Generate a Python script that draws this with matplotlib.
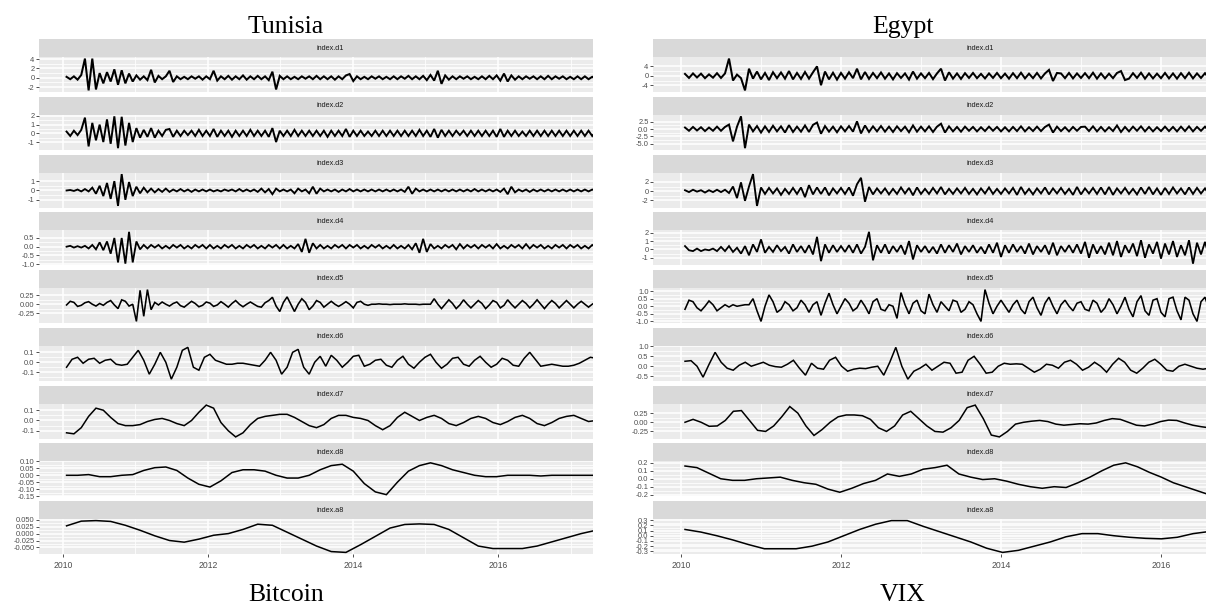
import numpy as np
import matplotlib.pyplot as plt

# ==========================================
# DATA : wavelet details d1..d8 and approximation a8
# ==========================================

strip_names = ["index.d1", "index.d2", "index.d3", "index.d4", "index.d5",
               "index.d6", "index.d7", "index.d8", "index.a8"]
year_ticks = [2010, 2012, 2014, 2016]
year_minor = [2011, 2013, 2015, 2017]

# ---- Tunisia (Bitcoin) ----
tun_start, tun_end = 2010.05, 2017.35

tun_d1 = [0.2, -0.3, 0.3, -0.4, 0.6, 4.1, -2.7, 4.1, -2.5, 1.0,
          -1.2, 1.2, -0.8, 1.8, -1.5, 1.6, -1.2, 0.9, -0.8, 0.5,
          -0.4, 0.3, -0.5, 1.7, -1.0, 0.4, -0.3, 0.3, 1.5, -0.9,
          0.3, -0.3, 0.2, -0.3, 0.3, -0.2, 0.3, -0.4, 0.3, -0.3,
          1.5, -0.6, 0.3, -0.3, 0.4, -0.4, 0.3, -0.3, 0.5, -0.4,
          0.3, -0.3, 0.4, -0.3, 0.3, -0.5, 1.3, -2.5, 0.4, -0.3,
          0.3, -0.3, 0.2, -0.3, 0.3, -0.2, 0.3, -0.3, 0.4, -0.3,
          0.3, -0.3, 0.3, -0.4, 0.3, -0.3, 0.5, 0.8, -0.7, 0.3,
          -0.3, 0.2, -0.3, 0.3, -0.2, 0.3, -0.3, 0.2, -0.3, 0.3,
          -0.3, 0.3, -0.2, 0.4, -0.3, 0.3, -0.3, 0.4, -0.5, 0.6,
          -0.6, 1.5, -1.3, 0.5, -0.4, 0.3, -0.3, 0.3, -0.2, 0.3,
          -0.3, 0.2, -0.3, 0.3, -0.3, 0.4, -0.3, 0.5, -0.6, 0.9,
          -0.8, 0.5, -0.4, 0.3, -0.3, 0.3, -0.2, 0.3, -0.3, 0.3,
          -0.3, 0.4, -0.3, 0.3, -0.2, 0.3, -0.3, 0.2, -0.3, 0.3,
          -0.3, 0.3, -0.3, 0.2, -0.3]

tun_d2 = [0.2, -0.3, 0.3, -0.2, 0.4, 1.8, -1.5, 1.2, -0.8, 1.0,
          -1.0, 1.6, -1.2, 1.95, -1.7, 1.9, -1.4, 1.2, -1.0, 0.6,
          -0.5, 0.4, -0.4, 0.6, -0.5, 0.3, -0.3, 0.4, 0.5, -0.4,
          0.3, -0.3, 0.3, -0.2, 0.3, -0.3, 0.4, -0.3, 0.3, -0.3,
          0.5, -0.4, 0.3, -0.3, 0.3, -0.4, 0.3, -0.3, 0.3, -0.3,
          0.4, -0.3, 0.3, -0.3, 0.3, -0.4, 0.6, -1.0, 0.3, -0.3,
          0.3, -0.3, 0.4, -0.3, 0.3, -0.3, 0.3, -0.3, 0.3, -0.3,
          0.3, -0.4, 0.3, -0.3, 0.3, -0.3, 0.5, -0.4, 0.3, -0.3,
          0.3, -0.3, 0.2, -0.3, 0.3, -0.3, 0.3, -0.3, 0.3, -0.3,
          0.3, -0.3, 0.3, -0.3, 0.3, -0.3, 0.4, -0.3, 0.3, -0.4,
          0.5, -0.5, 0.4, -0.3, 0.3, -0.3, 0.3, -0.2, 0.3, -0.3,
          0.3, -0.3, 0.3, -0.3, 0.3, -0.3, 0.3, -0.4, 0.5, -0.4,
          0.3, -0.3, 0.3, -0.3, 0.2, -0.3, 0.3, -0.3, 0.3, -0.3,
          0.3, -0.3, 0.3, -0.3, 0.3, -0.3, 0.3, -0.3, 0.3, -0.3,
          0.3, -0.3, 0.3, -0.3, 0.2]

tun_d3 = [0.0, 0.05, -0.05, 0.1, -0.1, 0.15, -0.1, 0.3, -0.35, 0.5,
          -0.6, 0.8, -0.9, 1.0, -1.65, 1.75, -1.0, 0.9, -0.6, 0.4,
          -0.3, 0.3, -0.2, 0.2, -0.2, 0.15, -0.15, 0.2, -0.15, 0.1,
          -0.1, 0.15, -0.1, 0.1, -0.15, 0.1, -0.1, 0.1, -0.1, 0.1,
          -0.1, 0.05, -0.1, 0.1, -0.05, 0.1, -0.1, 0.15, -0.1, 0.1,
          -0.1, 0.1, -0.15, 0.2, -0.2, 0.15, -0.4, 0.2, -0.1, 0.1,
          -0.1, 0.1, -0.3, 0.2, -0.1, 0.1, -0.3, 0.4, -0.35, 0.2,
          -0.1, 0.1, -0.1, 0.1, -0.15, 0.1, -0.1, 0.15, -0.1, 0.1,
          -0.1, 0.1, -0.1, 0.1, -0.1, 0.1, -0.1, 0.1, -0.1, 0.1,
          -0.1, 0.1, -0.15, 0.4, -0.35, 0.2, -0.1, 0.1, -0.1, 0.1,
          -0.1, 0.1, -0.1, 0.1, -0.1, 0.1, -0.1, 0.1, -0.1, 0.1,
          -0.1, 0.15, -0.1, 0.1, -0.1, 0.1, -0.1, 0.1, -0.15, 0.2,
          -0.4, 0.4, -0.2, 0.1, -0.1, 0.1, -0.15, 0.1, -0.1, 0.1,
          -0.1, 0.1, -0.1, 0.1, -0.1, 0.1, -0.1, 0.1, -0.1, 0.1,
          -0.1, 0.1, -0.1, 0.1, -0.05]

tun_d4 = [0.0, 0.05, -0.05, 0.03, -0.05, 0.05, -0.1, 0.1, -0.15, 0.25,
          -0.2, 0.3, -0.4, 0.5, -0.9, 0.5, -0.97, 0.85, -0.9, 0.3,
          -0.15, 0.1, -0.1, 0.1, -0.05, 0.1, -0.1, 0.05, -0.1, 0.1,
          -0.05, 0.1, -0.1, 0.05, -0.1, 0.1, -0.05, 0.1, -0.1, 0.1,
          -0.1, 0.05, -0.1, 0.1, -0.05, 0.1, -0.1, 0.05, -0.1, 0.1,
          -0.05, 0.1, -0.1, 0.05, -0.1, 0.1, -0.05, 0.1, -0.1, 0.1,
          -0.1, 0.05, -0.1, 0.15, -0.3, 0.45, -0.35, 0.2, -0.1, 0.1,
          -0.1, 0.05, -0.1, 0.1, -0.05, 0.1, -0.1, 0.1, -0.05, 0.1,
          -0.1, 0.05, -0.1, 0.1, -0.05, 0.1, -0.1, 0.05, -0.1, 0.1,
          -0.1, 0.05, -0.1, 0.1, -0.15, 0.2, -0.35, 0.45, -0.3, 0.15,
          -0.1, 0.05, -0.1, 0.1, -0.05, 0.1, -0.15, 0.15, -0.1, 0.1,
          -0.05, 0.1, -0.1, 0.1, -0.05, 0.1, -0.1, 0.15, -0.1, 0.05,
          -0.1, 0.1, -0.05, 0.1, -0.1, 0.15, -0.1, 0.1, -0.05, 0.1,
          -0.1, 0.05, -0.1, 0.1, -0.05, 0.1, -0.1, 0.1, -0.05, 0.1,
          -0.1, 0.05, -0.1, 0.1, -0.05]

tun_d5 = [-0.02, 0.08, 0.05, -0.06, -0.03, 0.04,
          0.07, 0.0, -0.05, 0.02, -0.03, 0.05,
          0.1, -0.02, -0.12, 0.12, 0.08, -0.05,
          0.0, -0.47, 0.38, -0.33, 0.4, -0.15, 0.05, -0.02,
          0.06, 0.0, -0.05, 0.02, 0.06, -0.04,
          -0.08, 0.0, 0.08, 0.02, -0.07, -0.03,
          0.06, 0.03, -0.06, -0.02, 0.07, 0.0,
          -0.08, 0.02, 0.1, 0.0, -0.07, 0.0,
          0.06, 0.0, -0.06, -0.08, 0.04, 0.1,
          0.19, -0.05, -0.2, 0.05, 0.2, 0.0,
          -0.2, 0.0, 0.15, 0.05, -0.15, -0.05,
          0.1, 0.05, -0.08, 0.0, 0.08, 0.0,
          -0.06, 0.0, 0.07, 0.0, -0.1, 0.05,
          0.08, 0.0, -0.03,
          0.0, 0.0, 0.01, 0.0, 0.0, -0.01, 0.0, 0.0, 0.0,
          0.01, 0.0, 0.0, 0.0, -0.01, 0.0, 0.0, 0.0,
          0.15, 0.0, -0.12, 0.0, 0.12, 0.02,
          -0.12, -0.02, 0.12, 0.0, -0.1, 0.0,
          0.1, 0.02, -0.12, -0.02, 0.1, 0.05,
          -0.1, -0.03, 0.12, 0.0, -0.1, 0.0,
          0.1, 0.02, -0.1, 0.0, 0.12, 0.0,
          -0.12, 0.0, 0.1, 0.02, -0.1, 0.0,
          0.1, 0.0, -0.1, 0.0, 0.08, 0.0,
          -0.08, 0.0, 0.06]

tun_d6 = [-0.05, 0.03, 0.05, -0.01, 0.03, 0.04, -0.01, 0.02, 0.03, -0.02,
          -0.03, -0.02, 0.05, 0.12, 0.02, -0.12, -0.02, 0.1, 0.0, -0.17,
          -0.05, 0.12, 0.15, -0.05, -0.08, 0.05, 0.08, 0.02, 0.0, -0.02,
          -0.02, -0.01, -0.01, -0.02, -0.03, -0.04, 0.02, 0.1, 0.02, -0.12,
          -0.05, 0.1, 0.13, -0.05, -0.12, 0.0, 0.06, -0.04, 0.07, 0.02,
          -0.05, 0.0, 0.06, 0.07, -0.04, -0.02, 0.02, 0.03, -0.03, -0.05,
          0.02, 0.06, -0.02, -0.06, 0.0, 0.05, 0.08, 0.0, -0.06, -0.02,
          0.04, 0.05, -0.02, -0.04, 0.02, 0.06, 0.0, -0.05, -0.02, 0.04,
          0.02, -0.03, -0.04, 0.04, 0.1, 0.03, -0.04, -0.03, -0.02, -0.03,
          -0.04, -0.04, -0.03, -0.01, 0.02, 0.05, 0.04]

tun_d7 = [-0.12, -0.13, -0.07, 0.04, 0.12, 0.1, 0.03, -0.03, -0.05, -0.05,
          -0.04, -0.01, 0.01, 0.02, 0.0, -0.03, -0.05, 0.0, 0.08, 0.15,
          0.12, -0.02, -0.1, -0.16, -0.12, -0.04, 0.02, 0.04, 0.05, 0.06,
          0.06, 0.03, -0.01, -0.05, -0.07, -0.04, 0.02, 0.05, 0.05, 0.03,
          0.02, 0.0, -0.05, -0.09, -0.05, 0.03, 0.08, 0.04, 0.0, 0.03,
          0.05, 0.02, -0.03, -0.05, -0.02, 0.02, 0.04, 0.02, -0.02, -0.04,
          -0.01, 0.03, 0.05, 0.02, -0.03, -0.05, -0.02, 0.02, 0.04, 0.05,
          0.02, -0.01, 0.0]

tun_d8 = [0.0, 0.0, 0.005, -0.01, -0.01, 0.0, 0.005, 0.035, 0.055, 0.06,
          0.035, -0.02, -0.065, -0.085, -0.04, 0.02, 0.04, 0.04, 0.03, 0.0,
          -0.02, -0.02, 0.0, 0.04, 0.07, 0.08, 0.03, -0.06, -0.12, -0.14,
          -0.05, 0.03, 0.07, 0.09, 0.07, 0.04, 0.02, 0.0, -0.01, -0.01,
          0.0, 0.0, 0.0, -0.005, 0.0, 0.0, 0.0, 0.0, 0.0]

tun_a8 = [0.028, 0.045, 0.047, 0.044, 0.03, 0.012, -0.008, -0.025, -0.031, -0.02,
          -0.006, 0.0, 0.015, 0.034, 0.03, 0.005, -0.02, -0.045, -0.065, -0.068,
          -0.04, -0.01, 0.02, 0.033, 0.035, 0.033, 0.015, -0.015, -0.045, -0.054,
          -0.054, -0.054, -0.045, -0.03, -0.015, 0.0, 0.012]

tun_yticks = [["4", "2", "0", "-2"],
              ["2", "1", "0", "-1"],
              ["1", "0", "-1"],
              ["0.5", "0.0", "-0.5", "-1.0"],
              ["0.25", "0.00", "-0.25"],
              ["0.1", "0.0", "-0.1", "-0.2"],
              ["0.1", "0.0", "-0.1"],
              ["0.10", "0.05", "0.00", "-0.05", "-0.10", "-0.15"],
              ["0.050", "0.025", "0.000", "-0.025", "-0.050"]]

# ---- Egypt (VIX) ----
egy_start, egy_end = 2010.05, 2016.6

egy_d1 = [0.8, -0.9, 1.0, -0.7, 0.9, -1.0, 0.6, -0.8, 1.1, -0.9,
          1.0, 7.3, -2.0, 0.5, -1.0, -6.2, 3.0, -1.2, 1.8, -1.5,
          1.2, -1.8, 1.5, -1.0, 1.4, -1.2, 2.0, -1.5, 1.2, -1.3,
          1.6, -1.2, 1.5, 4.0, -4.0, 1.8, -1.5, 1.3, -1.6, 1.2,
          -1.2, 1.5, -1.0, 3.0, -1.5, 1.6, -1.3, 1.2, -1.0, 1.4,
          -1.2, 1.0, -1.5, 1.1, -0.9, 1.0, -1.6, 1.8, -1.2, 1.0,
          -1.0, 1.2, -1.4, 1.0, 3.0, -2.0, 1.5, -1.2, 1.0, -1.3,
          1.1, -0.9, 1.2, -1.0, 0.8, -1.1, 1.0, -0.9, 1.2, -1.0,
          0.9, -1.2, 1.1, -1.0, 1.3, -1.1, 0.9, -1.0, 1.2, -1.1,
          1.0, 2.5, -2.2, 1.2, 1.0, -1.0, 1.2, -1.1, 1.0, -0.9,
          1.1, -1.0, 1.3, -1.2, 1.0, -1.1, 0.9, -1.0, 1.2, 2.0,
          -1.8, -1.2, 1.1, -0.9, 1.3, -1.2, 1.0, -1.1, 0.9, -1.0,
          1.2, -1.1, 1.0, -1.2, 1.1, -1.0, 1.3, -1.1, 1.0, -0.9,
          1.1, -1.0]

egy_d2 = [0.5, -0.6, 0.7, -0.5, 0.6, -0.7, 0.5, -0.6, 0.8, -0.6,
          0.7, 1.5, -4.2, 0.8, 4.3, -6.5, 1.5, -0.8, 1.0, -1.2,
          0.9, -1.0, 1.1, -0.8, 0.9, -1.2, 1.3, -1.0, 0.8, -0.9,
          1.2, -1.0, 1.4, 2.2, -1.6, 1.0, -0.9, 0.8, -1.1, 0.9,
          -0.8, 1.0, -0.9, 2.6, -1.5, 1.2, -1.0, 0.9, -0.8, 1.0,
          -0.9, 0.8, -1.0, 0.9, -0.7, 0.8, -1.1, 1.2, -0.9, 0.8,
          -0.8, 0.9, -1.0, 0.8, 1.8, -1.2, 0.9, -0.8, 0.7, -0.9,
          0.8, -0.6, 0.7, -0.8, 0.6, -0.7, 0.8, -0.6, 0.7, -0.8,
          0.6, -0.8, 0.7, -0.7, 0.9, -0.8, 0.6, -0.7, 0.8, -0.7,
          0.7, 1.5, -1.2, 0.8, -0.7, 0.6, -0.8, 0.7, -0.6, 0.7,
          0.8, -0.7, 0.9, -0.8, 0.7, -0.8, 0.6, -0.7, 1.2, -1.0,
          0.7, -0.8, 0.8, -0.6, 0.9, -0.8, 0.7, -0.8, 0.6, -0.7,
          0.8, -0.7, 0.7, -0.8, 0.8, -0.7, 0.9, -0.8, 0.7, -0.6,
          0.8, -0.7]

egy_d3 = [0.2, -0.2, 0.3, -0.1, 0.2, -0.3, 0.2, -0.2, 0.3, -0.2,
          0.3, -0.4, 1.0, -1.5, 1.9, -2.1, 1.0, 3.7, -3.2, 0.8,
          -0.6, 0.7, -0.5, 0.6, -0.8, 0.5, -0.6, 0.7, -0.6, 0.8,
          -1.3, 1.3, -0.7, 0.8, -0.6, 0.8, -0.9, 0.6, -0.5, 0.7,
          -0.6, 0.8, -1.0, 1.5, 2.9, -2.3, 0.9, -0.7, 0.6, -0.5,
          0.6, -0.7, 0.5, -0.6, 0.8, -0.5, 0.7, -0.9, 0.8, -0.6,
          0.5, -0.6, 0.7, -0.5, 0.9, -0.7, 0.5, -0.6, 0.6, -0.5,
          0.7, -0.6, 0.5, -0.7, 0.6, -0.5, 0.8, -0.6, 0.5, -0.6,
          0.6, -0.5, 0.7, -0.8, 0.9, -0.6, 0.5, -0.7, 0.6, -0.5,
          0.8, -0.7, 0.6, -0.5, 0.7, -0.6, 0.5, -0.8, 0.9, -0.7,
          0.6, -0.5, 0.7, -0.6, 0.8, -0.7, 0.9, -0.8, 0.6, -0.5,
          0.7, -0.6, 0.5, -0.7, 0.8, -0.6, 0.9, -0.7, 0.6, -0.8,
          0.7, -0.6, 0.8, -0.5, 0.6, -0.7, 0.8, -0.6, 0.7, -0.5,
          0.6, -0.7]

egy_d4 = [0.4, -0.1, -0.2, 0.1, -0.2, 0.0, -0.1, 0.1, -0.2, 0.3,
          -0.2, 0.4, -0.3, 0.2, -0.5, 0.4, -0.7, 0.6, -0.3, 1.2,
          -0.4, 0.3, -0.3, 0.5, -0.2, 0.3, -0.5, 0.6, -0.3, 0.4,
          -0.4, 0.5, -0.6, 1.5, -1.4, 0.6, -0.4, 0.5, -0.3, 0.4,
          -0.3, 0.5, -0.4, 0.6, -0.5, 0.3, 2.1, -1.3, 0.5, -0.4,
          0.6, -0.5, 0.4, -0.3, 0.5, -0.6, 1.0, -1.2, 0.5, -0.3,
          0.4, -0.4, 0.3, -0.5, 0.6, -0.4, 0.5, -0.3, 0.7, -0.6,
          0.4, -0.3, 0.5, -0.4, 0.3, -0.5, 0.6, -0.4, 0.8, -0.9,
          0.5, -0.4, 0.6, -0.3, 0.4, -0.5, 0.7, -0.6, 0.4, -0.3,
          0.5, -0.6, 0.8, -0.7, 0.4, -0.3, 0.5, -0.4, 0.6, -0.5,
          0.9, -1.0, 0.6, -0.5, 0.4, -0.6, 0.8, -0.7, 1.0, -0.9,
          0.5, -0.4, 0.7, -0.8, 1.1, -1.0, 0.6, -0.5, 0.9, -1.1,
          0.7, -0.6, 1.0, -0.9, 0.5, -0.7, 1.1, -1.7, 0.8, -0.6,
          0.9, -0.8]

egy_d5 = [-0.2, 0.4, 0.3, -0.1, -0.3, 0.0, 0.35, 0.1, -0.3, -0.1,
          0.1, -0.05, 0.1, 0.0, 0.05, 0.1, 0.1, 0.5, -0.3, -1.0,
          0.0, 0.75, 0.3, -0.4, -0.2, 0.3, 0.1, -0.3, -0.1, 0.4,
          0.1, -0.4, 0.1, 0.3, -0.6, 0.2, 0.86, 0.1, -0.5, 0.0,
          0.5, 0.2, -0.3, -0.1, 0.4, 0.0, -0.5, 0.3, 0.5, -0.2,
          -0.3, 0.1, 0.0, -0.8, 0.9, 0.1, -0.5, 0.2, 0.4, -0.3,
          -0.5, 0.8, 0.1, -0.4, 0.3, 0.0, -0.3, 0.4, 0.3, -0.4,
          -0.2, 0.3, 0.1, -0.5, -1.0, 1.1, 0.2, -0.5, 0.0, 0.4,
          0.0, -0.4, 0.1, 0.4, -0.2, -0.5, 0.3, 0.6, -0.1, -0.6,
          0.2, 0.6, 0.0, -0.5, 0.1, 0.4, 0.0, -0.3, 0.2, 0.3,
          -0.2, -0.3, 0.4, 0.2, -0.4, -0.1, 0.5, 0.1, -0.5, 0.0,
          0.6, -0.2, -0.7, 0.3, 0.7, -0.3, -0.6, 0.4, 0.5, -0.4,
          -0.7, 0.5, 0.6, -0.3, -0.9, 0.6, 0.4, -0.5, -1.0, 0.3,
          0.6, -0.2]

egy_d6 = [0.25, 0.28, 0.0, -0.55, 0.1, 0.7, 0.2, -0.1, -0.2, 0.05,
          0.2, 0.0, 0.1, 0.2, 0.05, -0.02, -0.05, 0.1, 0.3, -0.1,
          -0.45, 0.15, -0.1, -0.15, 0.3, 0.45, 0.0, -0.25, -0.15, -0.1,
          -0.12, -0.05, 0.0, -0.45, 0.2, 0.95, 0.0, -0.65, -0.25, -0.1,
          0.1, -0.2, 0.0, 0.2, 0.15, -0.35, -0.3, 0.3, 0.5, 0.1,
          -0.35, -0.3, 0.0, 0.15, 0.1, 0.12, 0.1, -0.1, -0.3, -0.15,
          0.1, 0.05, -0.1, 0.2, 0.3, 0.1, -0.2, -0.05, 0.2, 0.0,
          -0.3, 0.1, 0.4, 0.2, -0.2, -0.35, -0.1, 0.2, 0.35, 0.1,
          -0.2, -0.25, 0.0, 0.1, 0.0, -0.1, -0.15, -0.1]

egy_d7 = [0.0, 0.08, 0.0, -0.11, -0.1, 0.05, 0.3, 0.32, 0.05, -0.22,
          -0.25, -0.1, 0.15, 0.43, 0.25, -0.1, -0.36, -0.2, 0.0, 0.15,
          0.2, 0.2, 0.18, 0.08, -0.15, -0.25, -0.1, 0.2, 0.3, 0.1,
          -0.1, -0.25, -0.27, -0.15, 0.05, 0.4, 0.47, 0.1, -0.35, -0.4,
          -0.25, -0.05, 0.0, 0.03, 0.05, 0.02, -0.05, -0.08, -0.06, -0.04,
          -0.05, -0.02, 0.05, 0.1, 0.08, 0.0, -0.08, -0.1, -0.05, 0.02,
          0.06, 0.05, -0.02, -0.08, -0.12, -0.15]

egy_d8 = [0.16, 0.14, 0.07, 0.0, -0.02, -0.02, 0.0, 0.01, 0.02, -0.02,
          -0.05, -0.07, -0.13, -0.17, -0.12, -0.06, -0.02, 0.06, 0.03, 0.06,
          0.12, 0.14, 0.17, 0.06, 0.02, -0.01, 0.0, -0.03, -0.07, -0.1,
          -0.12, -0.1, -0.11, -0.05, 0.02, 0.1, 0.17, 0.2, 0.15, 0.08,
          0.02, -0.05, -0.1, -0.15, -0.2]

egy_a8 = [0.12, 0.07, 0.0, -0.08, -0.17, -0.25, -0.25, -0.25, -0.2, -0.12,
          0.0, 0.12, 0.22, 0.29, 0.29, 0.18, 0.08, -0.02, -0.12, -0.24,
          -0.32, -0.28, -0.2, -0.12, -0.02, 0.04, 0.04, 0.0, -0.03, -0.05,
          -0.06, -0.03, 0.04, 0.08]

egy_yticks = [["4", "0", "-4"],
              ["2.5", "0.0", "-2.5", "-5.0"],
              ["2", "0", "-2"],
              ["2", "1", "0", "-1"],
              ["1.0", "0.5", "0.0", "-0.5", "-1.0"],
              ["1.0", "0.5", "0.0", "-0.5"],
              ["0.25", "0.00", "-0.25"],
              ["0.2", "0.1", "0.0", "-0.1", "-0.2"],
              ["0.3", "0.2", "0.1", "0.0", "-0.1", "-0.2", "-0.3"]]

tun_series = [tun_d1, tun_d2, tun_d3, tun_d4, tun_d5, tun_d6, tun_d7, tun_d8, tun_a8]
egy_series = [egy_d1, egy_d2, egy_d3, egy_d4, egy_d5, egy_d6, egy_d7, egy_d8, egy_a8]

# ==========================================
# LAYOUT (pixels)
# ==========================================
W, H = 1206, 612
fig = plt.figure(figsize=(W / 100, H / 100), dpi=100)
fig.patch.set_facecolor("white")


def px_axes(x0, y0, w, h):
    return fig.add_axes([x0 / W, 1 - (y0 + h) / H, w / W, h / H])


columns = [
    dict(series=tun_series, yticks=tun_yticks, start=tun_start, end=tun_end,
         left=39, right=593, xlim=(2009.67, 2017.31), strip_x=330,
         title_x=286, top="Tunisia", bottom="Bitcoin"),
    dict(series=egy_series, yticks=egy_yticks, start=egy_start, end=egy_end,
         left=653, right=1206, xlim=(2009.65, 2016.5625), strip_x=980,
         title_x=903, top="Egypt", bottom="VIX"),
]

ROW0, ROW_STEP, STRIP_H, PANEL_H = 39, 57.75, 18, 35
tick_font = "Liberation Sans"
line_widths = [1.45, 1.4, 1.35, 1.3, 1.15, 1.1, 1.1, 1.1, 1.1]

for col in columns:
    width = col["right"] - col["left"]
    for k, vals in enumerate(col["series"]):
        top = ROW0 + ROW_STEP * k

        # facet strip
        sax = px_axes(col["left"], top, width, STRIP_H)
        sax.set_facecolor("#D9D9D9")
        sax.set_xticks([])
        sax.set_yticks([])
        for s in sax.spines.values():
            s.set_visible(False)
        fig.text(col["strip_x"] / W, 1 - (top + STRIP_H / 2) / H, strip_names[k],
                 ha="center", va="center", fontsize=5.2, color="#1A1A1A",
                 family=tick_font)

        # panel
        ax = px_axes(col["left"], top + STRIP_H, width, PANEL_H)
        ax.set_facecolor("#EBEBEB")
        for s in ax.spines.values():
            s.set_visible(False)

        x = np.linspace(col["start"], col["end"], len(vals))
        ax.plot(x, vals, color="black", lw=line_widths[k], solid_joinstyle="miter")

        labels = col["yticks"][k]
        pos = [float(s) for s in labels]
        ax.set_yticks(pos)
        ax.set_yticklabels(labels)
        ax.set_yticks([(a + b) / 2 for a, b in zip(pos[:-1], pos[1:])], minor=True)
        ax.set_xticks(year_ticks)
        ax.set_xticks(year_minor, minor=True)

        # limits after ticks, so tick setting does not widen them
        lo, hi = min(vals), max(vals)
        pad = 0.05 * (hi - lo)
        ax.set_ylim(lo - pad, hi + pad)
        ax.set_xlim(*col["xlim"])

        ax.grid(which="major", color="white", lw=1.1)
        ax.grid(which="minor", color="white", lw=0.55)
        ax.set_axisbelow(True)

        ax.tick_params(axis="y", which="major", length=2.2, width=0.6,
                       color="#333333", labelsize=5.4, labelcolor="#4D4D4D", pad=1)
        ax.tick_params(which="minor", length=0)
        for t in ax.get_yticklabels():
            t.set_family(tick_font)

        if k == len(col["series"]) - 1:
            ax.tick_params(axis="x", which="major", length=2.2, width=0.6,
                           color="#333333", labelsize=6.2, labelcolor="#4D4D4D", pad=3)
            for t in ax.get_xticklabels():
                t.set_family(tick_font)
        else:
            ax.tick_params(axis="x", which="major", length=0, labelbottom=False)

    # country / asset titles
    fig.text(col["title_x"] / W, 1 - 33 / H, col["top"], ha="center", va="baseline",
             fontsize=18.5, family="Liberation Serif", color="black")
    fig.text(col["title_x"] / W, 1 - 601 / H, col["bottom"], ha="center", va="baseline",
             fontsize=18.5, family="Liberation Serif", color="black")

fig.savefig("out.png", dpi=100, facecolor="white")
